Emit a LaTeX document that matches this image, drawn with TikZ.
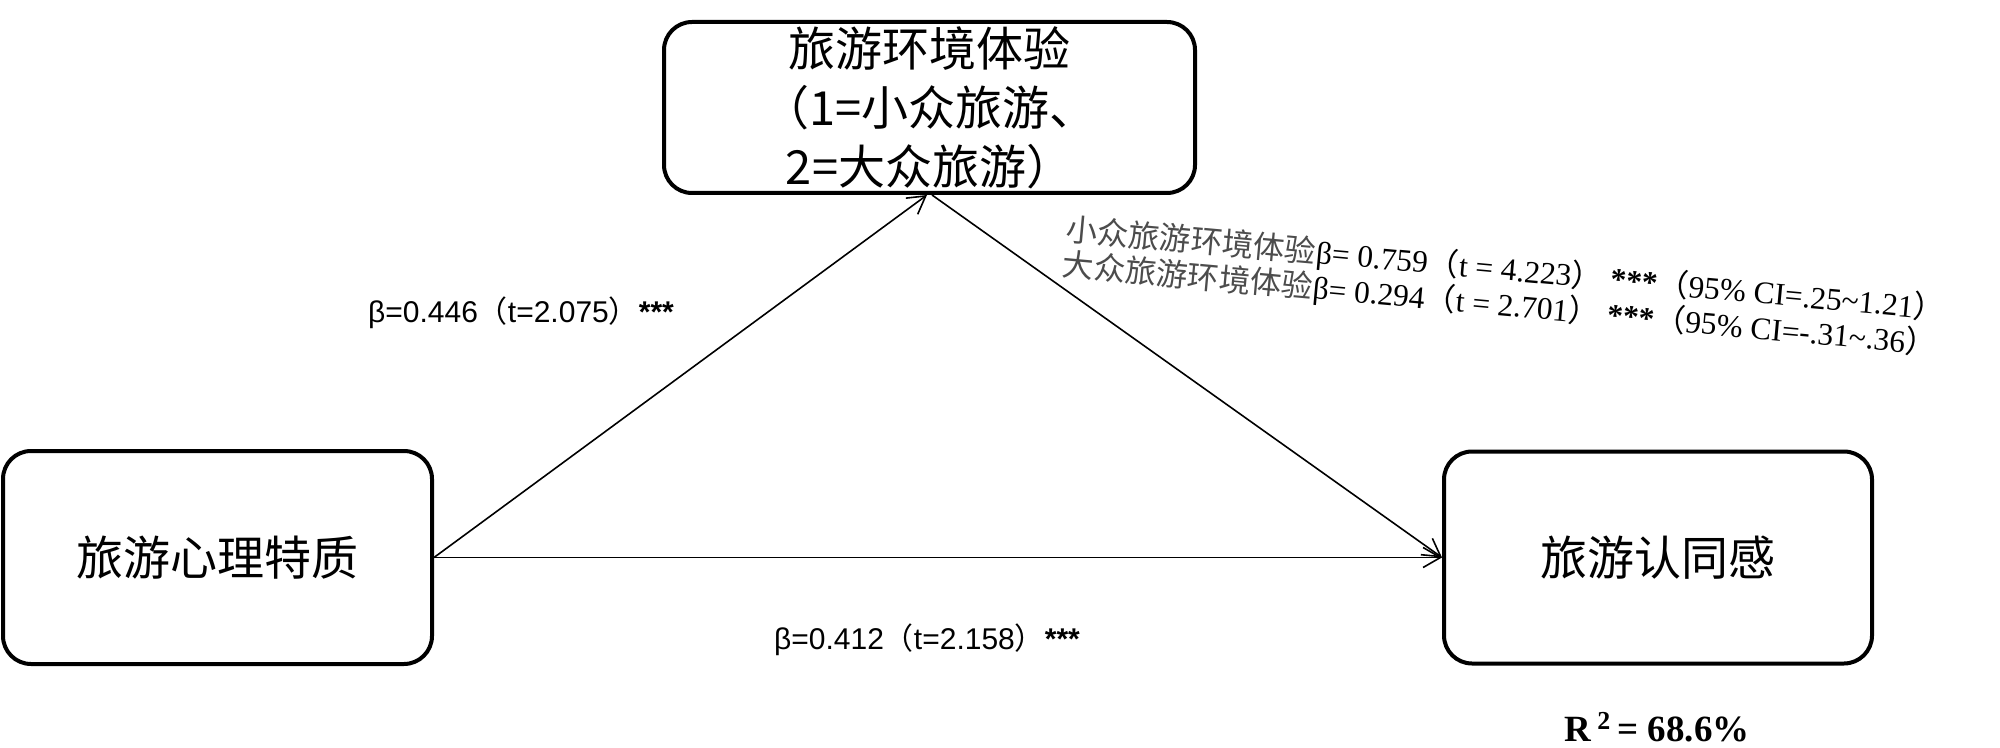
\documentclass[tikz,border=0pt]{standalone}
\usepackage{fontspec}
\setmainfont{Liberation Serif}
\newfontfamily\cjk{Noto Sans CJK SC}
\newfontfamily\lsans{Liberation Sans}
\usetikzlibrary{arrows.meta}
\begin{document}
\begin{tikzpicture}[x=0.5pt,y=-0.5pt,
  box/.style={draw, line width=2pt, rounded corners=14pt, inner sep=0pt, align=center,
    font=\cjk\fontsize{23.5}{29.5}\selectfont},
  arr/.style={line width=0.8pt, -{Straight Barb[angle=60:10pt]}},
  coef/.style={font=\lsans\fontsize{15}{18}\selectfont, inner sep=0pt},
  coefr/.style={font=\fontsize{15.7}{15.2}\selectfont, inner sep=0pt, align=left},
  rsq/.style={font=\fontsize{18.5}{20}\selectfont\bfseries, inner sep=0pt}]
\useasboundingbox (0,0) rectangle (2000,748);
\node[box, minimum width=265.5pt, minimum height=85.5pt] (T) at (929.5,107.5)
  {旅游环境体验\\（1=小众旅游、\\2=大众旅游）};
\node[box, minimum width=214.5pt, minimum height=106.5pt] (L) at (217.5,557.5) {旅游心理特质};
\node[box, minimum width=214pt, minimum height=106pt] (R) at (1658,557.5) {旅游认同感};
\draw[arr] (L.east) -- ([xshift=-1.25pt]T.south);
\draw[arr] ([xshift=1.25pt]T.south) -- (R.west);
\draw[arr] (L.east) -- (R.west);
\node[coef] (c1) at (521,313) {β=0.446{\cjk（}t=2.075{\cjk）}\textbf{***}};
\node[coef] (c2) at (927,640) {β=0.412{\cjk（}t=2.158{\cjk）}\textbf{***}};
\node[coefr, anchor=west, rotate=-5.2] (c3) at (1064,248)
  {{\cjk\color{black!70}小众旅游环境体验}β= 0.759{\cjk（}t = 4.223{\cjk）} \textbf{***}{\cjk（}95\% CI=.25\textasciitilde1.21{\cjk）}\\
   {\cjk\color{black!70}大众旅游环境体验}β= 0.294{\cjk（}t = 2.701{\cjk）} \textbf{***}{\cjk（}95\% CI=-.31\textasciitilde.36{\cjk）}};
\node[rsq] (r2) at (1657,727) {R\,\textsuperscript{2}\,= 68.6\%};
\end{tikzpicture}
\end{document}
